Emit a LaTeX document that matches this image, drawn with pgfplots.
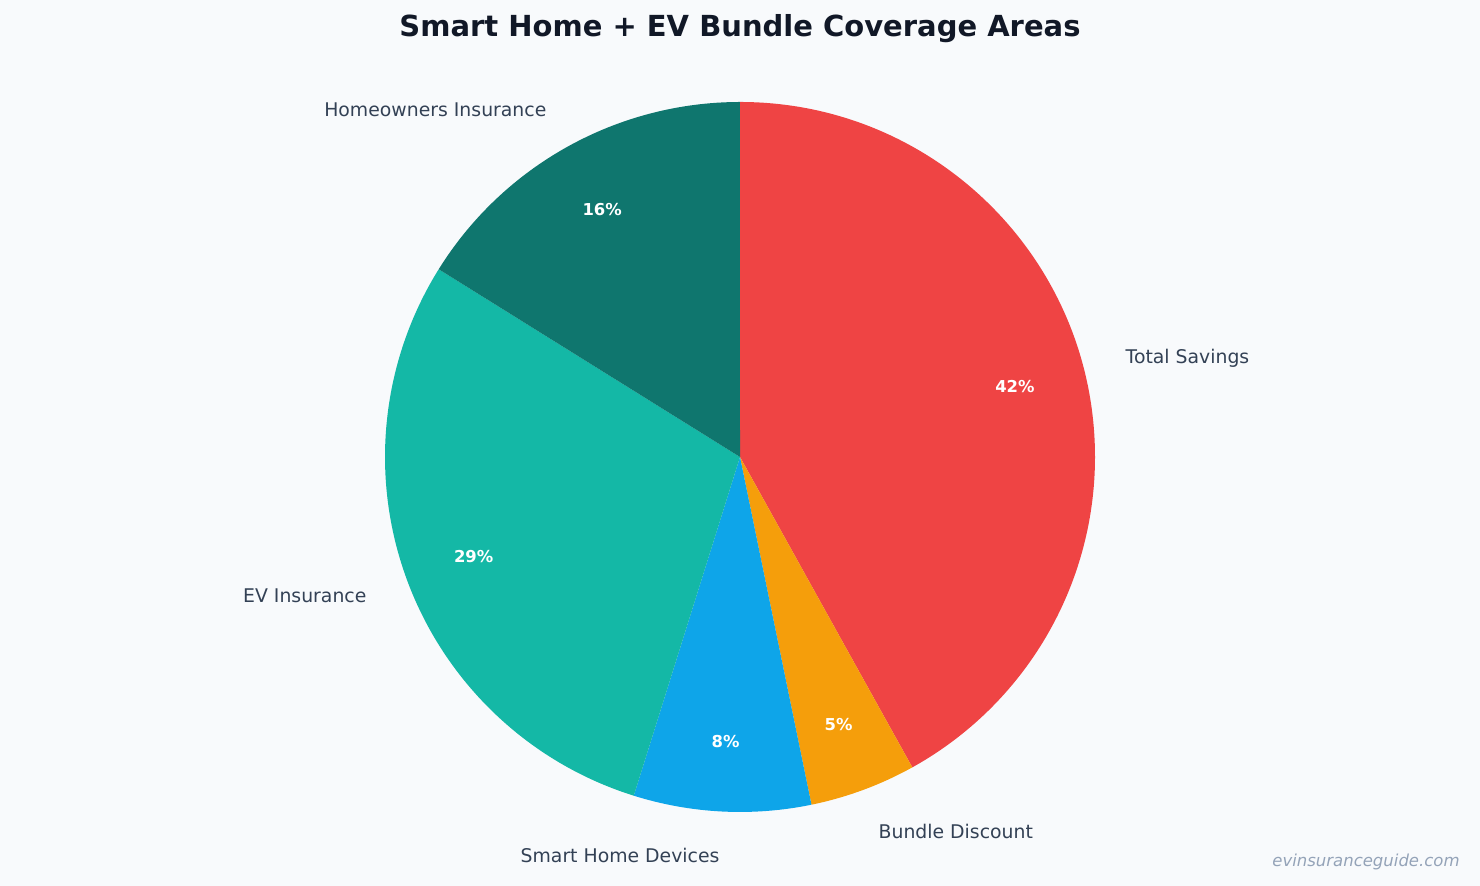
\documentclass[border=0pt]{standalone}
\usepackage{pgfplots}
\pgfplotsset{compat=1.18}
\usepackage{pgfplotstable}
\usepackage{fontspec}
\setmainfont{DejaVu Sans}

\definecolor{bgc}{HTML}{F8FAFC}
\definecolor{titlec}{HTML}{111827}
\definecolor{labelc}{HTML}{334155}
\definecolor{wmc}{HTML}{94A3B8}
\definecolor{pie0}{HTML}{EF4444}
\definecolor{pie1}{HTML}{F59E0B}
\definecolor{pie2}{HTML}{0EA5E9}
\definecolor{pie3}{HTML}{14B8A6}
\definecolor{pie4}{HTML}{0F766E}

\pgfplotstableread[col sep=comma]{
name,value
Total Savings,1300
Bundle Discount,150
Smart Home Devices,250
EV Insurance,900
Homeowners Insurance,500
}\piedata

\begin{document}
\begin{tikzpicture}
\gdef\pietotal{0}
\pgfplotsforeachungrouped \i in {0,...,4}{%
  \pgfplotstablegetelem{\i}{value}\of\piedata
  \pgfmathsetmacro\tmp{\pietotal+\pgfplotsretval}%
  \xdef\pietotal{\tmp}%
}
\gdef\curang{90}
\pgfplotsforeachungrouped \i in {0,...,4}{%
  \pgfplotstablegetelem{\i}{value}\of\piedata
  \let\val\pgfplotsretval
  \pgfmathsetmacro\frac{\val/\pietotal}%
  \pgfmathtruncatemacro\pct{round(100*\frac)}%
  \expandafter\xdef\csname pieV\i\endcsname{\pct}%
  \pgfplotstablegetelem{\i}{name}\of\piedata
  \expandafter\xdef\csname pieN\i\endcsname{\pgfplotsretval}%
  \pgfmathsetmacro\sa{\curang}%
  \pgfmathsetmacro\ea{\curang-360*\frac}%
  \pgfmathsetmacro\ma{(\sa+\ea)/2}%
  \expandafter\xdef\csname pieS\i\endcsname{\sa}%
  \expandafter\xdef\csname pieE\i\endcsname{\ea}%
  \expandafter\xdef\csname pieM\i\endcsname{\ma}%
  \pgfmathparse{cos(\ma)>0?1:0}%
  \ifnum\pgfmathresult>0
    \expandafter\xdef\csname pieA\i\endcsname{west}%
  \else
    \expandafter\xdef\csname pieA\i\endcsname{east}%
  \fi
  \xdef\curang{\ea}%
}
\begin{axis}[
  width=740pt, height=443pt, scale only axis,
  xmin=0, xmax=1480, ymin=0, ymax=886,
  hide axis, clip=false,
]
\fill[bgc] (axis cs:0,0) rectangle (axis cs:1480,886);
\pgfplotsinvokeforeach{0,...,4}{
  \fill[pie#1] (axis cs:740,429) -- ++(\csname pieS#1\endcsname:177.5pt)
    arc[start angle=\csname pieS#1\endcsname, end angle=\csname pieE#1\endcsname, radius=177.5pt] -- cycle;
}
\pgfplotsinvokeforeach{0,...,4}{
  \path (axis cs:740,428) ++(\csname pieM#1\endcsname:142pt)
    node[anchor=center, inner sep=0pt, text=white, font=\fontsize{8.2}{10}\selectfont\bfseries] {\csname pieV#1\endcsname\%};
  \path (axis cs:740,428) ++(\csname pieM#1\endcsname:199pt)
    node[anchor=\csname pieA#1\endcsname, inner sep=0pt, text=labelc, font=\fontsize{9.42}{11}\selectfont] {\csname pieN#1\endcsname};
}
\node[anchor=center, text=titlec, font=\fontsize{14.5}{17}\selectfont\bfseries] at (axis cs:740,857) {Smart Home + EV Bundle Coverage Areas};
\node[anchor=east, inner sep=0pt, text=wmc, font=\fontsize{8.25}{10}\selectfont\itshape] at (axis cs:1460,24) {evinsuranceguide.com};
\end{axis}
\end{tikzpicture}
\end{document}
